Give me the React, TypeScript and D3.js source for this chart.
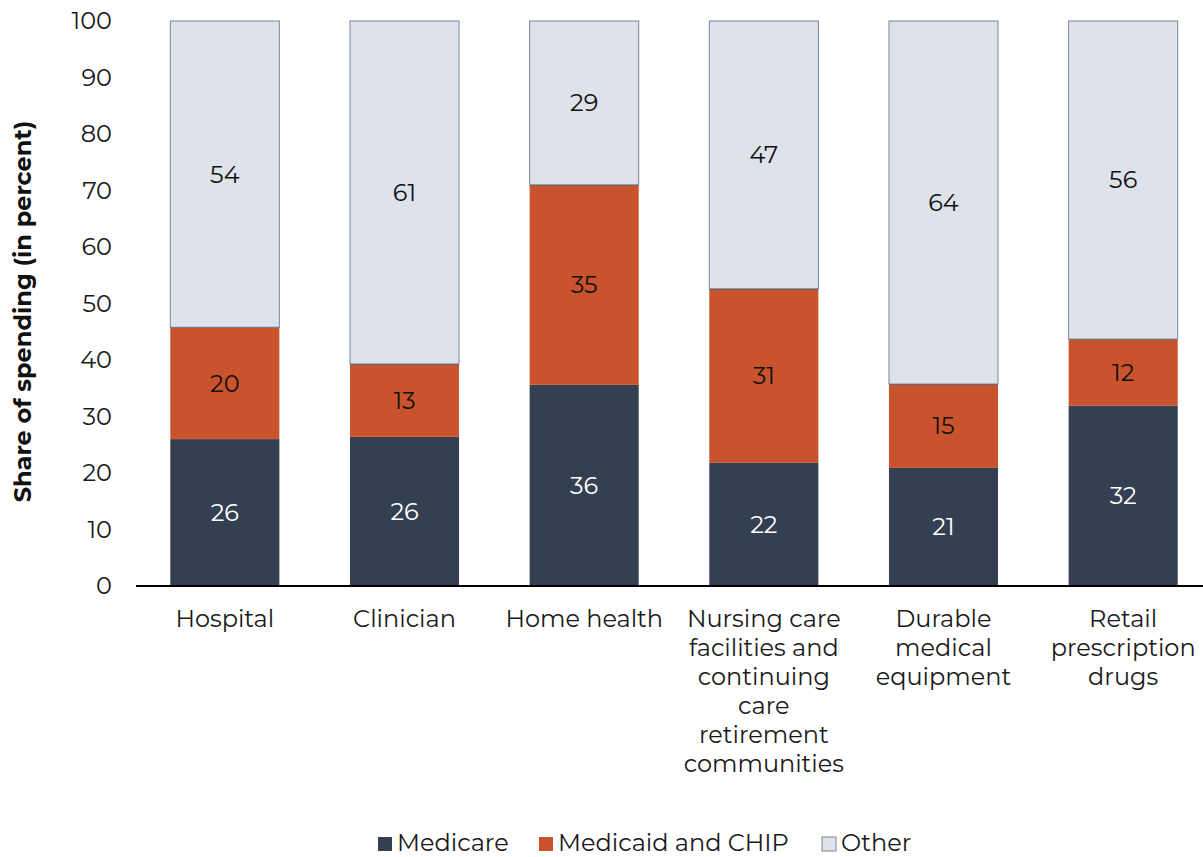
import React from "react";
import * as d3 from "d3";

const categories = ["Hospital", "Clinician", "Home health", "Nursing care facilities and continuing care retirement communities", "Durable medical equipment", "Retail prescription drugs"];
const categoryLines = [
  ["Hospital"],
  ["Clinician"],
  ["Home health"],
  ["Nursing care", "facilities and", "continuing", "care", "retirement", "communities"],
  ["Durable", "medical", "equipment"],
  ["Retail", "prescription", "drugs"],
];
const seriesNames = ["Medicare", "Medicaid and CHIP", "Other"];
const medicare = [26, 26.4, 35.6, 21.8, 20.9, 31.9];
const medicaid = [19.8, 12.9, 35.4, 30.8, 14.85, 11.8];
const other = [54.2, 60.7, 29.0, 47.4, 64.25, 56.3];
const medicareLabels = [26, 26, 36, 22, 21, 32];
const medicaidLabels = [20, 13, 35, 31, 15, 12];
const otherLabels = [54, 61, 29, 47, 64, 56];
const yTicks = [0, 10, 20, 30, 40, 50, 60, 70, 80, 90, 100];

const colors = ["#343f51", "#c9532c", "#dee2eb"];
const FONT = "Montserrat, 'DejaVu Sans', sans-serif";
const FS = 24;

export default function App() {
  const W = 1203, H = 857;
  const x = d3.scaleBand<string>().domain(categories).range([135, 1213]).paddingInner(0.393).paddingOuter(0.1965);
  const y = d3.scaleLinear().domain([0, 100]).range([586, 21]);
  const rows = categories.map((c, i) => ({ cat: c, Medicare: medicare[i], "Medicaid and CHIP": medicaid[i], Other: other[i] }));
  const stack = d3.stack<any>().keys(seriesNames)(rows);
  const labels = [medicareLabels, medicaidLabels, otherLabels];
  const legendX = [378, 539, 822];

  return (
    <svg width={W} height={H} style={{ position: "absolute", left: 0, top: 0 }} fontFamily={FONT}>
      {yTicks.map((t) => (
        <text key={t} x={112} y={y(t)} dy="0.35em" textAnchor="end" fontSize={FS} fill="#1a1a1a">{t}</text>
      ))}
      <text transform={`translate(31,${y(50) + 8}) rotate(-90)`} textAnchor="middle" fontSize={FS} fontWeight="bold" fill="#111">Share of spending (in percent)</text>
      {stack.map((s, si) => (
        <g key={s.key}>
          {s.map((d, i) => {
            const bx = x(categories[i])!;
            const bw = x.bandwidth();
            const y0 = y(d[1]);
            const y1 = y(d[0]);
            return (
              <g key={i}>
                <rect x={bx} y={y0} width={bw} height={y1 - y0} fill={colors[si]} stroke={si === 2 ? "#7d8696" : "none"} strokeWidth={1} />
                {si === 1 && <line x1={bx} x2={bx + bw} y1={y0} y2={y0} stroke="#3a4352" strokeWidth={1.5} />}
                <text x={bx + bw / 2} y={(y0 + y1) / 2} dy="0.35em" textAnchor="middle" fontSize={FS} fill={si === 0 ? "#ffffff" : "#111"}>{labels[si][i]}</text>
              </g>
            );
          })}
        </g>
      ))}
      <line x1={136} x2={1203} y1={y(0)} y2={y(0)} stroke="#000" strokeWidth={2} />
      {categoryLines.map((lines, i) => (
        <text key={i} textAnchor="middle" fontSize={FS} fill="#1a1a1a">
          {lines.map((l, j) => (
            <tspan key={j} x={x(categories[i])! + x.bandwidth() / 2} y={627 + j * 29}>{l}</tspan>
          ))}
        </text>
      ))}
      {seriesNames.map((n, i) => (
        <g key={n}>
          <rect x={legendX[i]} y={837} width={14} height={14} fill={colors[i]} stroke={i === 2 ? "#7d8696" : "none"} />
          <text x={legendX[i] + 19} y={843} dy="0.35em" fontSize={FS} fill="#1a1a1a">{n}</text>
        </g>
      ))}
    </svg>
  );
}
